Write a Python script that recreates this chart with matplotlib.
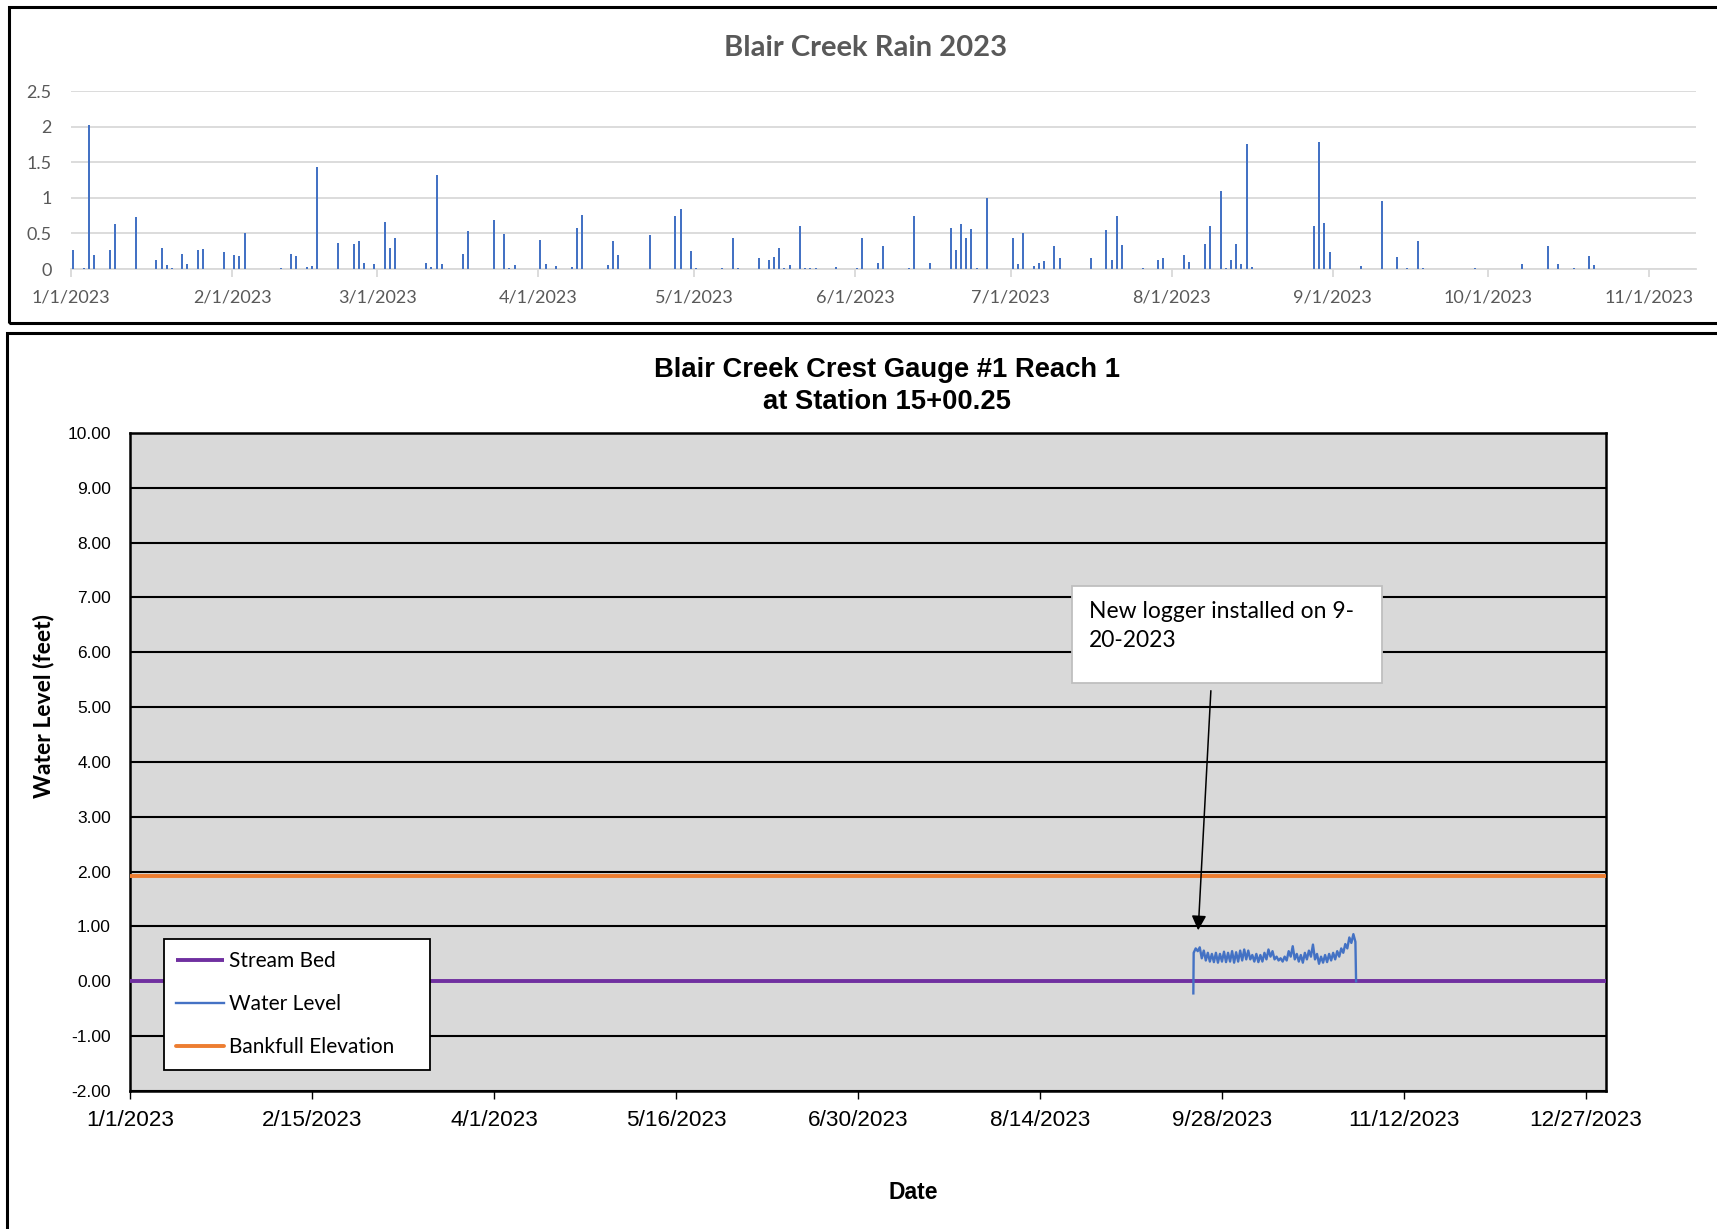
import matplotlib
matplotlib.use('Agg')
import matplotlib.pyplot as plt
import matplotlib.dates as mdates
from matplotlib.patches import Rectangle
from matplotlib.ticker import FuncFormatter, MultipleLocator
import pandas as pd

# daily rain (inches), Blair Creek 2023
rain_days = ['1/1', '1/3', '1/4', '1/5', '1/8', '1/9', '1/13', '1/17', '1/18', '1/19',
             '1/20', '1/22', '1/23', '1/25', '1/26', '1/30', '2/1', '2/2', '2/3', '2/10',
             '2/12', '2/13', '2/15', '2/16', '2/17', '2/21', '2/24', '2/25', '2/26', '2/28',
             '3/2', '3/3', '3/4', '3/10', '3/11', '3/12', '3/13', '3/17', '3/18', '3/23',
             '3/25', '3/26', '3/27', '4/1', '4/2', '4/4', '4/7', '4/8', '4/9', '4/14',
             '4/15', '4/16', '4/22', '4/27', '4/28', '4/30', '5/1', '5/6', '5/8', '5/9',
             '5/13', '5/15', '5/16', '5/17', '5/18', '5/19', '5/21', '5/22', '5/23', '5/24',
             '5/28', '6/1', '6/2', '6/5', '6/6', '6/11', '6/12', '6/15', '6/19', '6/20',
             '6/21', '6/22', '6/23', '6/24', '6/26', '7/1', '7/2', '7/3', '7/5', '7/6',
             '7/7', '7/9', '7/10', '7/16', '7/19', '7/20', '7/21', '7/22', '7/26', '7/29',
             '7/30', '8/3', '8/4', '8/7', '8/8', '8/10', '8/11', '8/12', '8/13', '8/14',
             '8/15', '8/16', '8/28', '8/29', '8/30', '8/31', '9/6', '9/10', '9/13', '9/15',
             '9/17', '9/18', '9/28', '10/7', '10/12', '10/14', '10/17', '10/20', '10/21']
rain_in = [0.27, 0.01, 2.03, 0.20, 0.27, 0.63, 0.73, 0.13, 0.30, 0.05,
           0.01, 0.21, 0.07, 0.27, 0.28, 0.24, 0.20, 0.19, 0.50, 0.01,
           0.21, 0.19, 0.03, 0.04, 1.43, 0.36, 0.35, 0.39, 0.08, 0.07,
           0.66, 0.30, 0.43, 0.08, 0.03, 1.32, 0.07, 0.21, 0.53, 0.69,
           0.49, 0.01, 0.06, 0.41, 0.07, 0.04, 0.03, 0.58, 0.76, 0.05,
           0.39, 0.20, 0.48, 0.74, 0.84, 0.26, 0.01, 0.01, 0.44, 0.01,
           0.15, 0.13, 0.17, 0.30, 0.01, 0.05, 0.60, 0.01, 0.01, 0.01,
           0.03, 0.01, 0.44, 0.09, 0.33, 0.01, 0.74, 0.08, 0.58, 0.27,
           0.63, 0.43, 0.56, 0.01, 1.00, 0.44, 0.07, 0.50, 0.04, 0.08,
           0.11, 0.33, 0.15, 0.15, 0.55, 0.13, 0.75, 0.34, 0.01, 0.12,
           0.15, 0.20, 0.10, 0.35, 0.60, 1.09, 0.01, 0.12, 0.35, 0.07,
           1.76, 0.03, 0.60, 1.79, 0.65, 0.24, 0.04, 0.95, 0.17, 0.02,
           0.40, 0.01, 0.01, 0.07, 0.33, 0.07, 0.01, 0.18, 0.05]
rain_ticks = ['1/1', '2/1', '3/1', '4/1', '5/1', '6/1', '7/1', '8/1', '9/1', '10/1', '11/1']

# crest gauge series
bed_dates = ['2023-01-01', '2024-01-01']
bed_level = [0.0, 0.0]
bank_dates = ['2023-01-01', '2024-01-01']
bank_level = [1.92, 1.92]

# new logger: first reading, then 12-hourly readings from 9/21, last reading
wl_first = ('2023-09-20 22:00', -0.22)
wl_start = '2023-09-21 00:00'
wl_level = [0.52, 0.60, 0.55, 0.62, 0.42, 0.56, 0.38, 0.52, 0.36, 0.50,
            0.35, 0.52, 0.34, 0.50, 0.36, 0.54, 0.35, 0.52, 0.36, 0.55,
            0.34, 0.53, 0.36, 0.56, 0.38, 0.58, 0.40, 0.56, 0.40, 0.48,
            0.36, 0.50, 0.35, 0.48, 0.36, 0.52, 0.40, 0.58, 0.45, 0.55,
            0.40, 0.45, 0.38, 0.42, 0.36, 0.45, 0.38, 0.55, 0.45, 0.64,
            0.40, 0.50, 0.36, 0.48, 0.34, 0.52, 0.40, 0.56, 0.45, 0.67,
            0.40, 0.50, 0.32, 0.45, 0.34, 0.48, 0.35, 0.50, 0.38, 0.52,
            0.40, 0.55, 0.45, 0.60, 0.52, 0.68, 0.60, 0.80, 0.70, 0.86,
            0.72]
wl_last = ('2023-10-31 04:00', 0.0)

BLUE = '#4472C4'
GREY_TXT = '#595959'
CAL = ['Lato', 'DejaVu Sans']
ARIAL = ['Liberation Sans', 'DejaVu Sans']

fig = plt.figure(figsize=(17.17, 12.29), dpi=100)

# panel frames
fig.patches.append(Rectangle((0.0052, 0.7372), 1.2, 0.2571, transform=fig.transFigure,
                             fill=False, ec='black', lw=2.2, clip_on=False))
fig.patches.append(Rectangle((0.0041, -0.2), 1.2, 0.929, transform=fig.transFigure,
                             fill=False, ec='black', lw=2.2, clip_on=False))

# ---------- rain chart ----------
ax1 = fig.add_axes([0.0414, 0.7811, 0.9464, 0.1448])
rd = pd.to_datetime([d + '/2023' for d in rain_days], format='%m/%d/%Y') + pd.Timedelta(hours=10)
ax1.bar(rd, rain_in, width=0.385, color=BLUE, lw=0, zorder=3)
ax1.set_ylim(0, 2.5)
ax1.set_xlim(pd.Timestamp('2023-01-01'), pd.Timestamp('2023-11-10'))
ax1.yaxis.set_major_locator(MultipleLocator(0.5))
ax1.yaxis.set_major_formatter(FuncFormatter(lambda v, p: '%g' % v))
ax1.grid(axis='y', color='#D9D9D9', lw=1.3, zorder=0)
ax1.set_axisbelow(True)
for s in ['top', 'right', 'left']:
    ax1.spines[s].set_visible(False)
ax1.spines['bottom'].set_color('#D9D9D9')
ax1.spines['bottom'].set_linewidth(1.3)
rt = pd.to_datetime([d + '/2023' for d in rain_ticks], format='%m/%d/%Y')
ax1.set_xticks(rt)
ax1.set_xticklabels([d + '/2023' for d in rain_ticks])
ax1.tick_params(axis='x', length=6, color='#D9D9D9', width=1.3, pad=9)
ax1.tick_params(axis='y', length=0, pad=14)
for lab in ax1.get_xticklabels() + ax1.get_yticklabels():
    lab.set_family(CAL)
    lab.set_fontsize(13)
    lab.set_color(GREY_TXT)
fig.text(0.504, 0.961, 'Blair Creek Rain 2023', ha='center', va='center',
         fontsize=21, fontweight='bold', color=GREY_TXT, family=CAL)

# ---------- crest gauge chart ----------
ax2 = fig.add_axes([0.0759, 0.1123, 0.8595, 0.5354])
ax2.set_facecolor('#D9D9D9')
ax2.plot(pd.to_datetime(bed_dates), bed_level, color='#7030A0', lw=2.8,
         solid_capstyle='butt', label='Stream Bed', zorder=4, clip_on=False)
wl_t = [pd.Timestamp(wl_first[0])] + list(pd.date_range(wl_start, periods=len(wl_level), freq='12h')) \
    + [pd.Timestamp(wl_last[0])]
wl_v = [wl_first[1]] + wl_level + [wl_last[1]]
ax2.plot(wl_t, wl_v, color=BLUE, lw=1.7, label='Water Level', zorder=5)
ax2.plot(pd.to_datetime(bank_dates), bank_level, color='#ED7D31', lw=2.8,
         solid_capstyle='round', label='Bankfull Elevation', zorder=4)

ax2.set_ylim(-2, 10)
ax2.set_xlim(pd.Timestamp('2023-01-01'), pd.Timestamp('2024-01-01'))
ax2.yaxis.set_major_locator(MultipleLocator(1))
ax2.yaxis.set_major_formatter(FuncFormatter(lambda v, p: '%.2f' % v))
ax2.set_xticks(pd.date_range('2023-01-01', periods=9, freq='45D'))
ax2.xaxis.set_major_formatter(FuncFormatter(
    lambda v, p: '%d/%d/%d' % (mdates.num2date(v).month, mdates.num2date(v).day, mdates.num2date(v).year)))
ax2.grid(axis='y', color='black', lw=1.5, zorder=1)
ax2.set_axisbelow(True)
for s in ax2.spines.values():
    s.set_linewidth(1.8)
ax2.tick_params(axis='x', length=6, width=1.0, pad=8)
ax2.tick_params(axis='y', length=0, pad=14)
for lab in ax2.get_xticklabels():
    lab.set_family(ARIAL)
    lab.set_fontsize(16.2)
for lab in ax2.get_yticklabels():
    lab.set_family(ARIAL)
    lab.set_fontsize(12.5)

fig.text(0.0256, 0.4255, 'Water Level (feet)', rotation=90, ha='center', va='center',
         family=CAL, fontweight='bold', fontsize=16.5)
fig.text(0.532, 0.030, 'Date', ha='center', va='center', family=ARIAL,
         fontweight='bold', fontsize=16.5)
fig.text(0.5166, 0.686, 'Blair Creek Crest Gauge #1 Reach 1\nat Station 15+00.25', ha='center',
         va='center', fontsize=19.7, fontweight='bold', family=ARIAL, linespacing=1.3)

leg = ax2.legend(loc='upper left', bbox_to_anchor=(0.0228, 0.0, 0.180, 0.231), mode='expand',
                 borderaxespad=0, prop={'family': CAL, 'size': 15}, handlelength=2.3,
                 handletextpad=0.2, labelspacing=1.1, borderpad=0.6, fancybox=False,
                 framealpha=1, edgecolor='black')
leg.get_frame().set_linewidth(1.3)
leg.set_zorder(10)

# annotation box and arrow
ax2.add_patch(Rectangle((0.638, 0.620), 0.210, 0.1475, transform=ax2.transAxes,
                        fc='white', ec='#BFBFBF', lw=1.3, zorder=6))
ax2.text(0.6497, 0.707, 'New logger installed on 9-\n20-2023', transform=ax2.transAxes,
         ha='left', va='center', fontsize=16.5, family=CAL, linespacing=1.5, zorder=7)
ax2.annotate('', xy=(0.7235, 0.240), xytext=(0.7323, 0.6125), xycoords='axes fraction',
             arrowprops=dict(arrowstyle='-|>', color='black', lw=1.1, mutation_scale=22),
             zorder=7)

fig.savefig('out.png', dpi=100)
